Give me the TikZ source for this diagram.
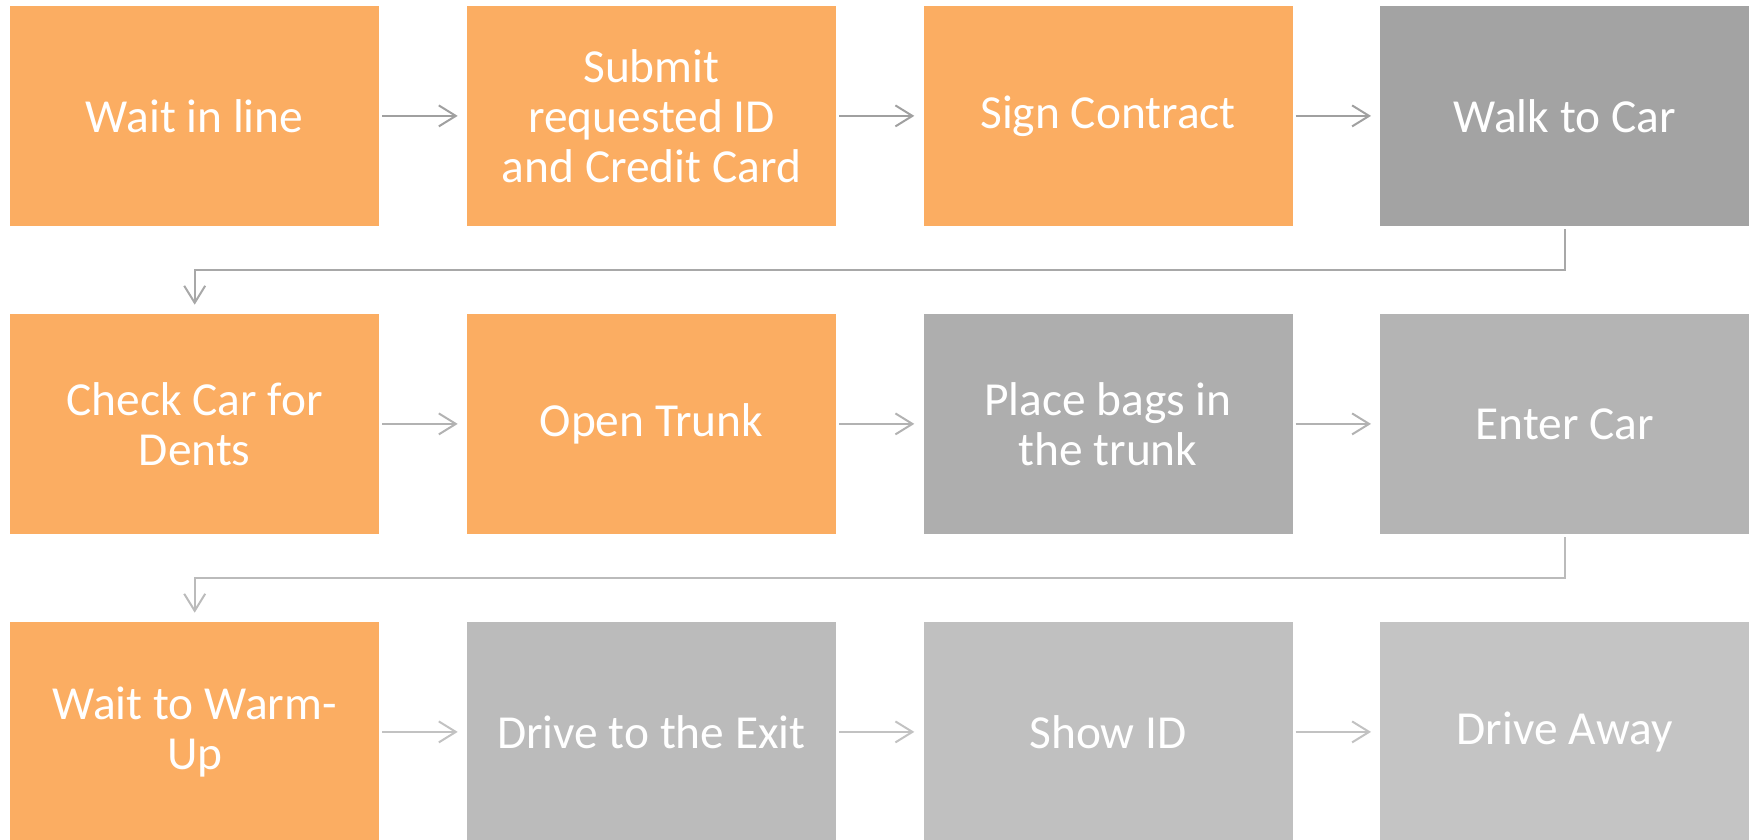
\documentclass[tikz,border=0pt]{standalone}
\usepackage{fontspec}
\setmainfont{Carlito}
\usetikzlibrary{arrows.meta}

\definecolor{stepOrange}{HTML}{FBAD62}
\definecolor{grayA}{HTML}{A3A3A3}
\definecolor{grayB}{HTML}{AEAEAE}
\definecolor{grayC}{HTML}{B4B4B4}
\definecolor{grayD}{HTML}{BBBBBB}
\definecolor{grayE}{HTML}{C0C0C0}
\definecolor{grayF}{HTML}{C4C4C4}
\definecolor{lineA}{HTML}{A0A0A0}
\definecolor{lineB}{HTML}{A8A8A8}
\definecolor{lineC}{HTML}{B2B2B2}
\definecolor{lineD}{HTML}{BBBBBB}
\definecolor{lineE}{HTML}{C2C2C2}

\tikzset{
  stepbox/.style={draw=none, anchor=north west, minimum width=369pt,
    minimum height=220pt, inner sep=0pt, text=white, align=center,
    font=\fontsize{47.4}{50}\selectfont},
  flow/.style={line width=2pt, -{Straight Barb[length=17pt,width=21pt,line width=2pt]},
    shorten <=3pt, shorten >=9pt},
}

\begin{document}
\begin{tikzpicture}[x=1pt,y=-1pt]
\useasboundingbox (0,0) rectangle (1754,840);

% row 1
\node[stepbox, fill=stepOrange] (n1) at (10,5.7) {Wait in line};
\node[stepbox, fill=stepOrange] (n2) at (466.7,5.7) {Submit\\requested ID\\and Credit Card};
\node[stepbox, fill=stepOrange] (n3) at (923.3,5.7) {Sign Contract};
\node[stepbox, fill=grayA] (n4) at (1380,5.7) {Walk to Car};

% row 2
\node[stepbox, fill=stepOrange] (n5) at (10,313.7) {Check Car for\\Dents};
\node[stepbox, fill=stepOrange] (n6) at (466.7,313.7) {Open Trunk};
\node[stepbox, fill=grayB] (n7) at (923.3,313.7) {Place bags in\\the trunk};
\node[stepbox, fill=grayC] (n8) at (1380,313.7) {Enter Car};

% row 3
\node[stepbox, fill=stepOrange] (n9) at (10,621.7) {Wait to Warm-\\Up};
\node[stepbox, fill=grayD] (n10) at (466.7,621.7) {Drive to the Exit};
\node[stepbox, fill=grayE] (n11) at (923.3,621.7) {Show ID};
\node[stepbox, fill=grayF] (n12) at (1380,621.7) {Drive Away};

% connectors
\draw[flow, draw=lineA] (n1) -- (n2);
\draw[flow, draw=lineA] (n2) -- (n3);
\draw[flow, draw=lineA] (n3) -- (n4);
\draw[flow, draw=lineB] (n4.south) -- ++(0,44) -| (n5.north);
\draw[flow, draw=lineC] (n5) -- (n6);
\draw[flow, draw=lineC] (n6) -- (n7);
\draw[flow, draw=lineC] (n7) -- (n8);
\draw[flow, draw=lineD] (n8.south) -- ++(0,44) -| (n9.north);
\draw[flow, draw=lineE] (n9) -- (n10);
\draw[flow, draw=lineE] (n10) -- (n11);
\draw[flow, draw=lineE] (n11) -- (n12);
\end{tikzpicture}
\end{document}
